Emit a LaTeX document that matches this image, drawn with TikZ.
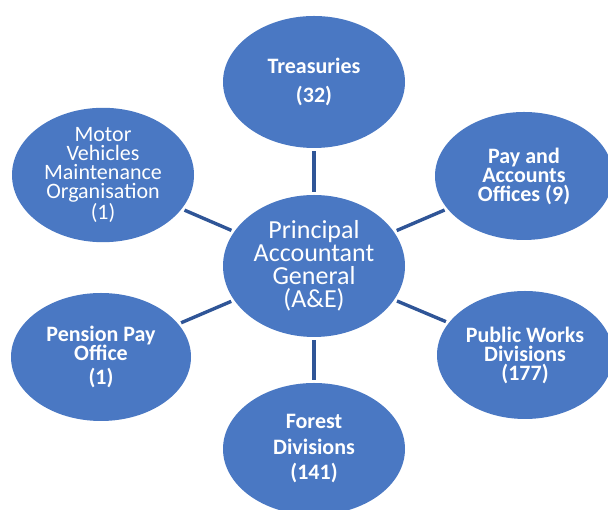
\documentclass[tikz,border=0pt]{standalone}
\usepackage{fontspec}
\setmainfont{Carlito}
\usepackage{tikz}
\usetikzlibrary{shapes.geometric}
\definecolor{bubble}{RGB}{74,120,195}
\definecolor{spoke}{RGB}{47,85,151}
\tikzset{>=stealth}

\begin{document}
\begin{tikzpicture}[x=1pt, y=1pt,
    hubnode/.style={ellipse, fill=bubble, text=white, inner sep=0pt, align=center,
        minimum width=182pt, minimum height=142pt, font=\fontsize{26}{23}\selectfont},
    leafnode/.style={ellipse, fill=bubble, text=white, inner sep=0pt, align=center,
        minimum width=182pt, minimum height=132pt, font=\fontsize{22}{19}\selectfont\bfseries},
    spokeline/.style={draw=spoke, line width=3.4pt, shorten <=3pt, shorten >=3pt}]
            \useasboundingbox (0,0) rectangle (608,510);
            % hub and the six offices round it
            \node[hubnode] (pag) at (314,244) {Principal\\Accountant\\General\\(A\&E)};
            \node[leafnode, font=\fontsize{22}{29}\selectfont\bfseries] (treas) at (314,428) {Treasuries\\(32)};
            \node[leafnode, font=\fontsize{22}{19}\selectfont] (mvmo) at (103,335) {Motor\\Vehicles\\Maintenance\\Organisation\\(1)};
            \node[leafnode, minimum width=178pt, minimum height=128pt] (pao) at (524,334) {Pay and\\Accounts\\Offices (9)};
            \node[leafnode, minimum width=180pt, minimum height=128pt] (ppo) at (101,153) {Pension Pay\\Office\\[5pt](1)};
            \node[leafnode, minimum width=176pt, minimum height=128pt] (pwd) at (525,155) {Public Works\\Divisions\\(177)};
            \node[leafnode, font=\fontsize{22}{25.5}\selectfont\bfseries] (forest) at (314,61) {Forest\\Divisions\\(141)};
            % connectors
            \draw[spokeline] (pag) -- (treas);
            \draw[spokeline] (pag) -- (mvmo);
            \draw[spokeline] (pag) -- (pao);
            \draw[spokeline] (pag) -- (ppo);
            \draw[spokeline] (pag) -- (pwd);
            \draw[spokeline] (pag) -- (forest);
\end{tikzpicture}
\end{document}
